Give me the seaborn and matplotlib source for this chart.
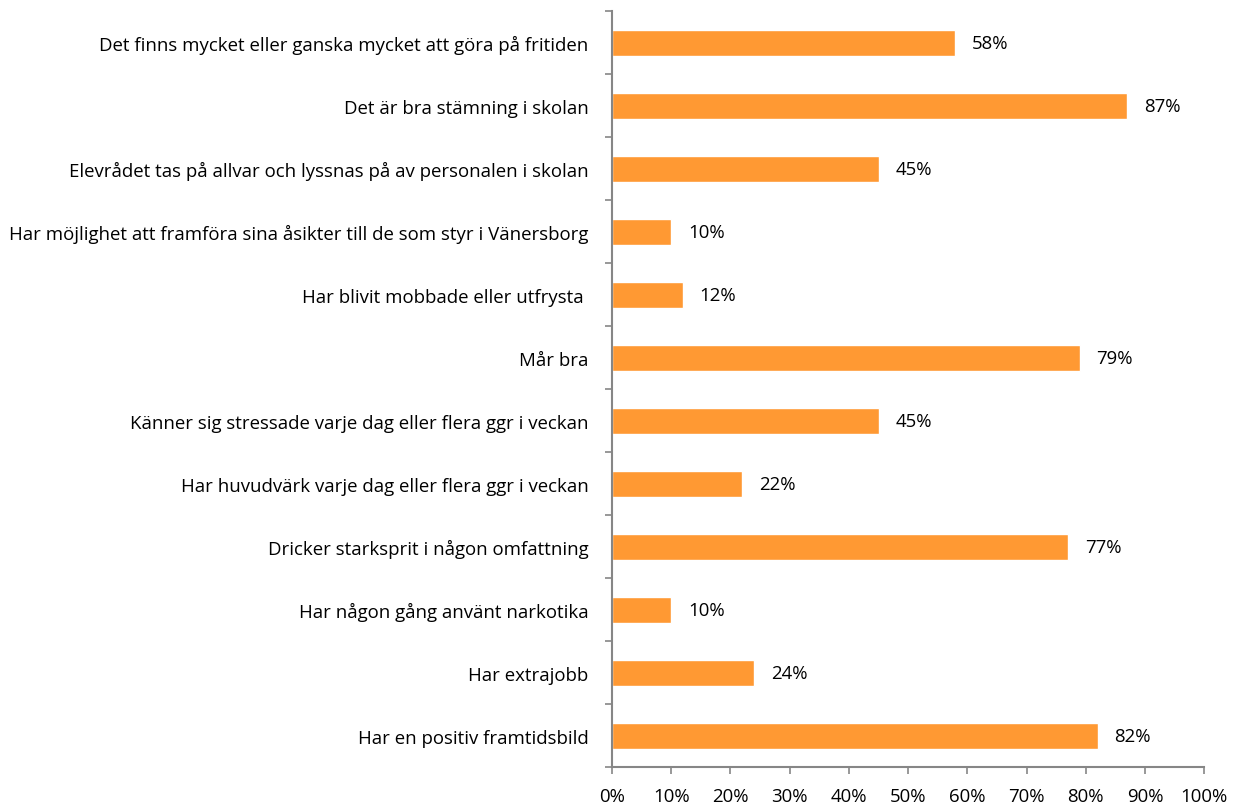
import matplotlib.pyplot as plt
import seaborn as sns
import pandas as pd
from matplotlib.ticker import FixedLocator, PercentFormatter

# Categories (top to bottom) and values in percent
categories = [
    "Det finns mycket eller ganska mycket att göra på fritiden",
    "Det är bra stämning i skolan",
    "Elevrådet tas på allvar och lyssnas på av personalen i skolan",
    "Har möjlighet att framföra sina åsikter till de som styr i Vänersborg",
    "Har blivit mobbade eller utfrysta ",
    "Mår bra",
    "Känner sig stressade varje dag eller flera ggr i veckan",
    "Har huvudvärk varje dag eller flera ggr i veckan",
    "Dricker starksprit i någon omfattning",
    "Har någon gång använt narkotika",
    "Har extrajobb",
    "Har en positiv framtidsbild",
]
values = [58, 87, 45, 10, 12, 79, 45, 22, 77, 10, 24, 82]
x_ticks = [0, 10, 20, 30, 40, 50, 60, 70, 80, 90, 100]

df = pd.DataFrame({"label": categories, "value": values})

sns.set_style("white")
plt.rcParams["font.family"] = ["Open Sans", "DejaVu Sans"]

bar_color = "#FF9933"
axis_color = "#868686"
fs = 13.4

fig, ax = plt.subplots(figsize=(12.44, 8.12), dpi=100)
fig.subplots_adjust(left=0.492, right=0.968, top=0.985, bottom=0.054)

sns.barplot(data=df, x="value", y="label", orient="h", color=bar_color,
            saturation=1, width=0.41, ax=ax)

# Value labels
for i, v in enumerate(values):
    ax.annotate(f"{v}%", xy=(v, i), xytext=(12, 0), textcoords="offset points",
                ha="left", va="center", fontsize=fs, color="black")

ax.set_xlim(0, 100)
ax.set_ylim(len(categories) - 0.5, -0.5)
ax.xaxis.set_major_locator(FixedLocator(x_ticks))
ax.xaxis.set_major_formatter(PercentFormatter(decimals=0))

# Category labels centred on bars, tick marks between categories
ax.set_yticks(range(len(categories)))
ax.set_yticklabels(categories, fontsize=fs)
ax.tick_params(axis="y", which="major", length=0, pad=17, labelcolor="black")
ax.set_yticks([i - 0.5 for i in range(len(categories) + 1)], minor=True)
ax.tick_params(axis="y", which="minor", length=5, width=1.2, color=axis_color,
               direction="out", left=True)
ax.tick_params(axis="x", length=5, width=1.2, color=axis_color, direction="out",
               bottom=True, pad=9, labelsize=fs, labelcolor="black")

ax.set_xlabel("")
ax.set_ylabel("")
for side in ["top", "right"]:
    ax.spines[side].set_visible(False)
for side in ["left", "bottom"]:
    ax.spines[side].set_color(axis_color)
    ax.spines[side].set_linewidth(1.5)

fig.savefig("out.png", dpi=100)
